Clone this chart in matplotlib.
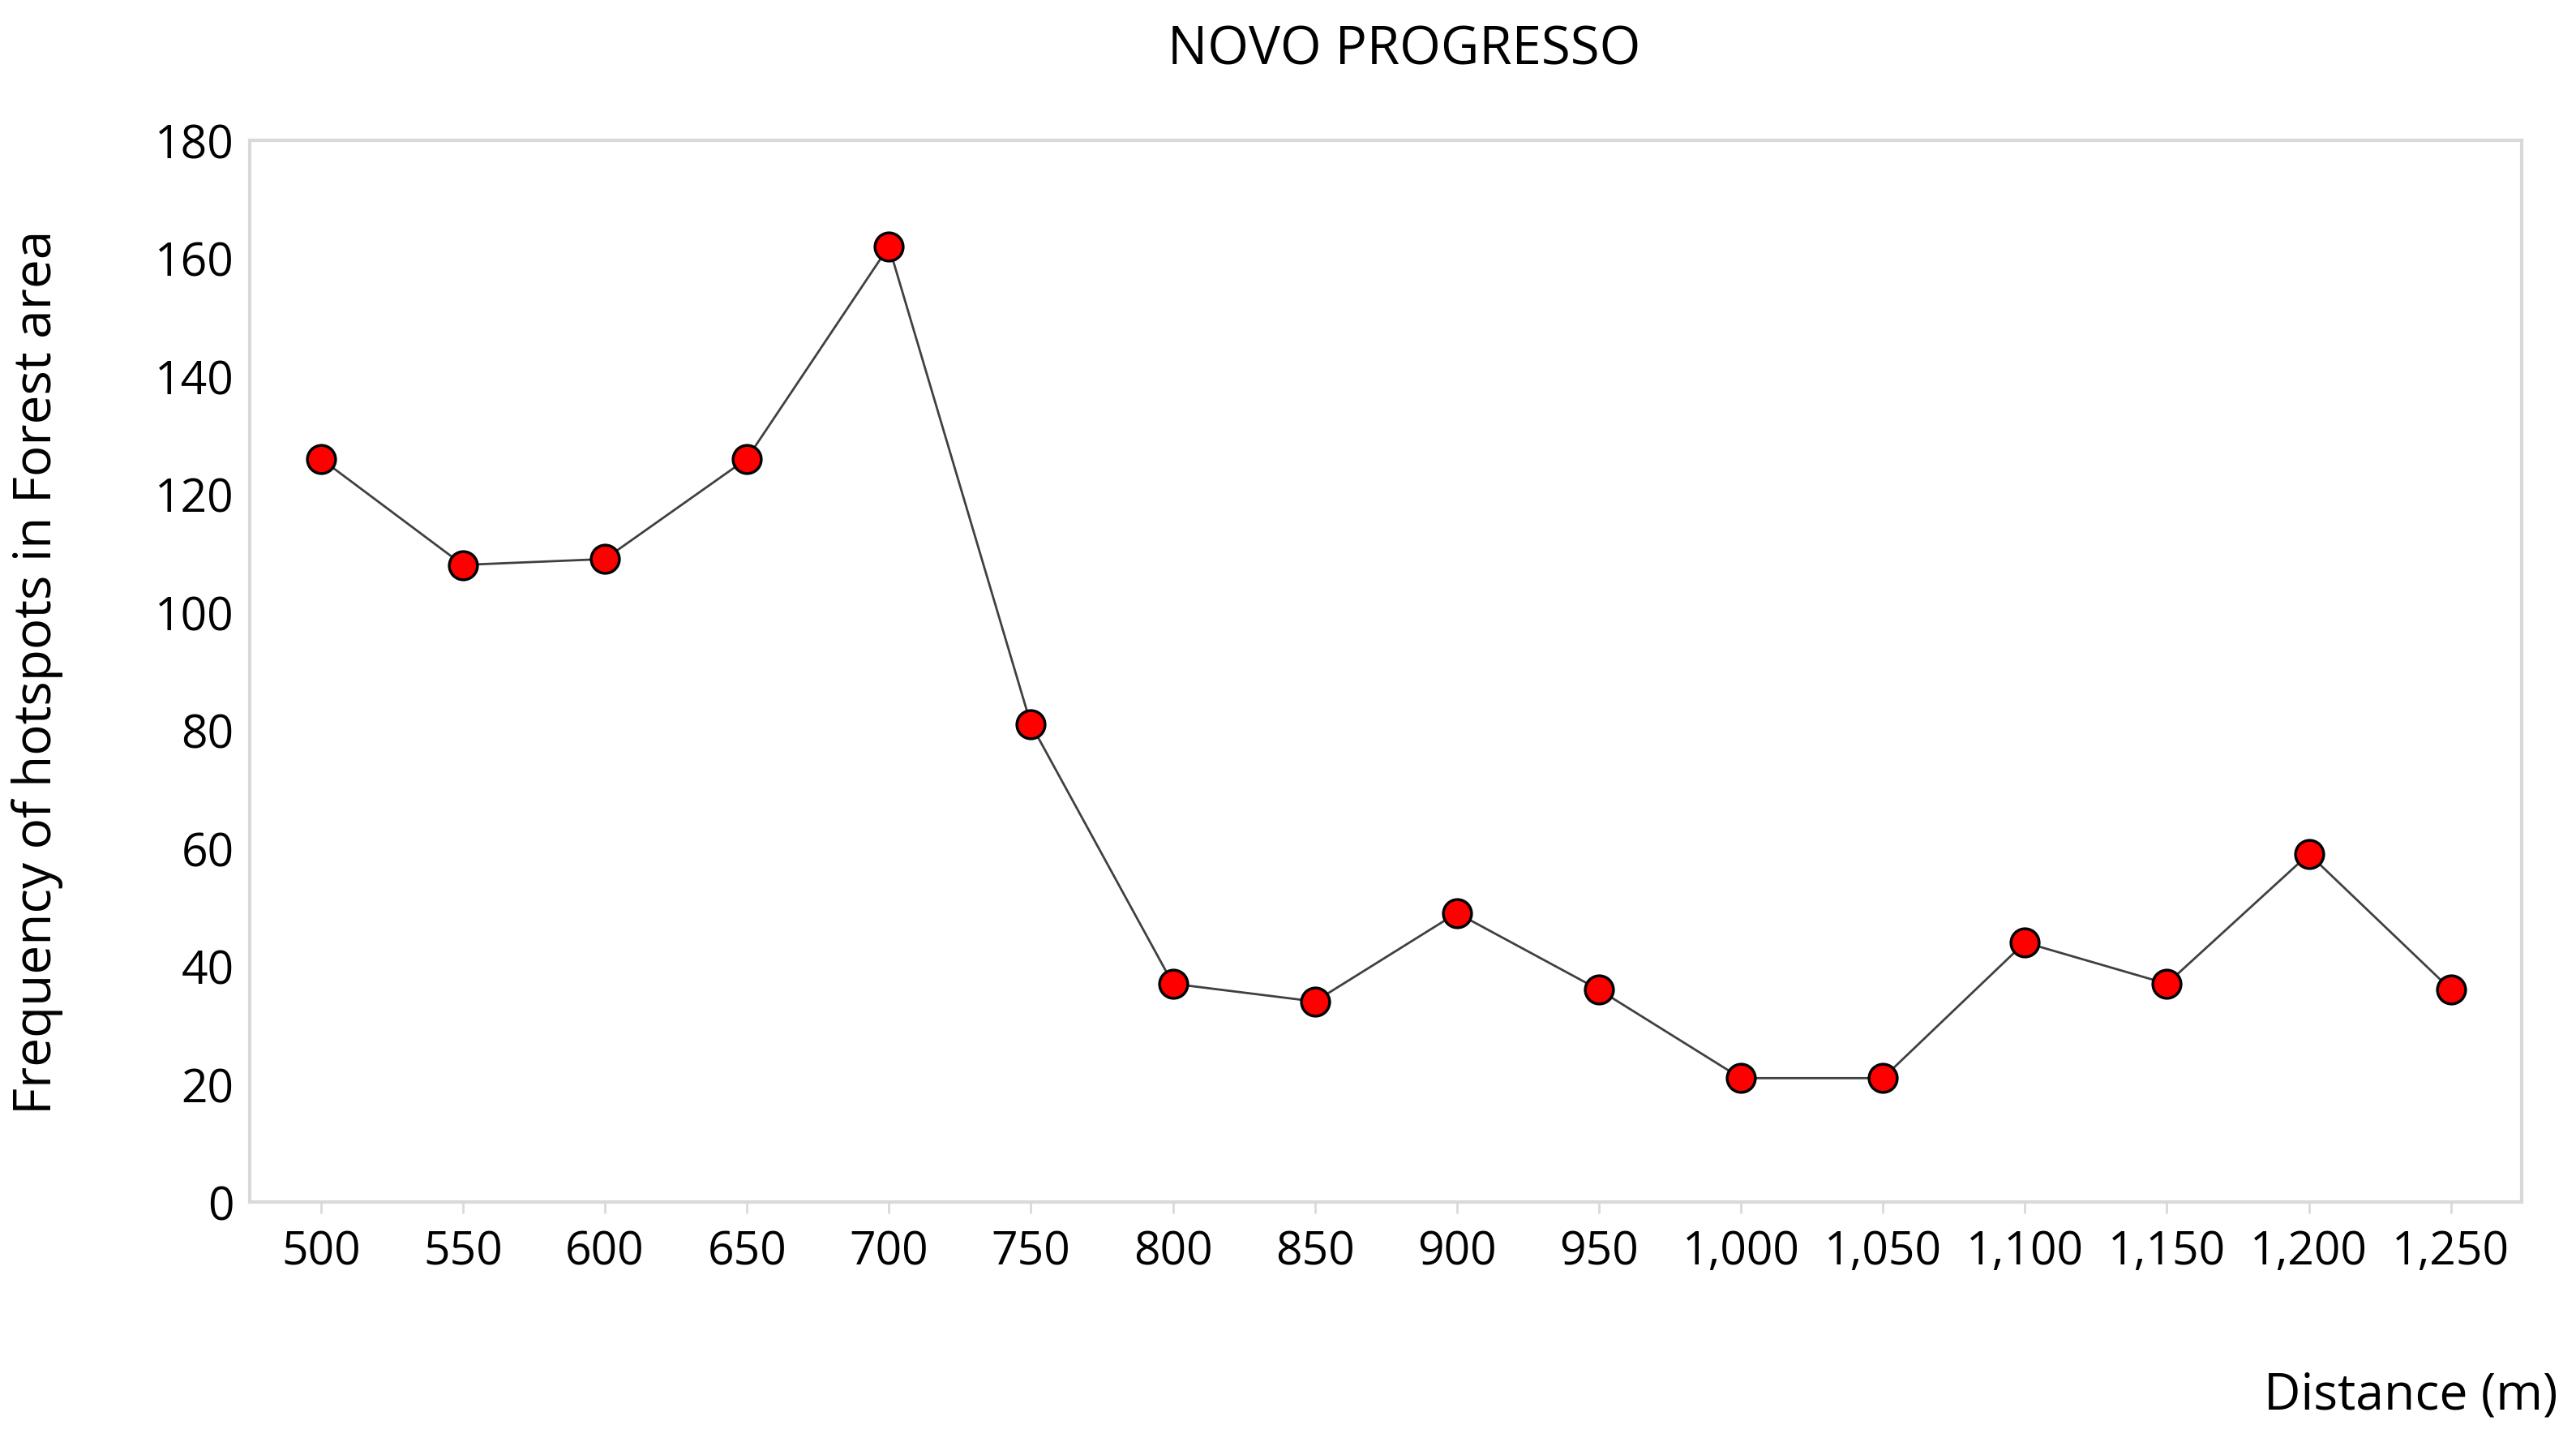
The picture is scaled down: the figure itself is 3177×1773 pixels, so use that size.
import matplotlib
matplotlib.use("Agg")
import matplotlib.pyplot as plt

distances = ["500", "550", "600", "650", "700", "750", "800", "850", "900", "950",
             "1,000", "1,050", "1,100", "1,150", "1,200", "1,250"]
frequency = [126, 108, 109, 126, 162, 81, 37, 34, 49, 36, 21, 21, 44, 37, 59, 36]

plt.rcParams['font.family'] = ['Open Sans', 'DejaVu Sans']
fig = plt.figure(figsize=(31.77, 17.74), dpi=100)
ax = fig.add_axes([0.097, 0.164, 0.882, 0.738])

x = range(len(distances))
ax.plot(x, frequency, color='#404040', lw=2, marker='o', markersize=25,
        markerfacecolor='#ff0000', markeredgecolor='black', markeredgewidth=2.5)

ax.set_xlim(-0.5, len(distances) - 0.5)
ax.set_ylim(0, 180)
ax.set_yticks(range(0, 181, 20))
ax.set_xticks(list(x))
ax.set_xticklabels(distances)
ax.tick_params(labelsize=41, length=0, pad=14)
ax.tick_params(axis='x', length=10, width=2, color='#d9d9d9', direction='out')
for s in ax.spines.values():
    s.set_color('#d9d9d9')
    s.set_linewidth(3)

ax.set_ylabel('Frequency of hotspots in Forest area', fontsize=46)
ax.yaxis.set_label_coords(-0.082, 0.5)
fig.text(0.545, 0.965, 'NOVO PROGRESSO', fontsize=47, ha='center', va='center')
fig.text(0.993, 0.03, 'Distance (m)', fontsize=45, ha='right', va='center')

fig.savefig('out.png', dpi=100)
